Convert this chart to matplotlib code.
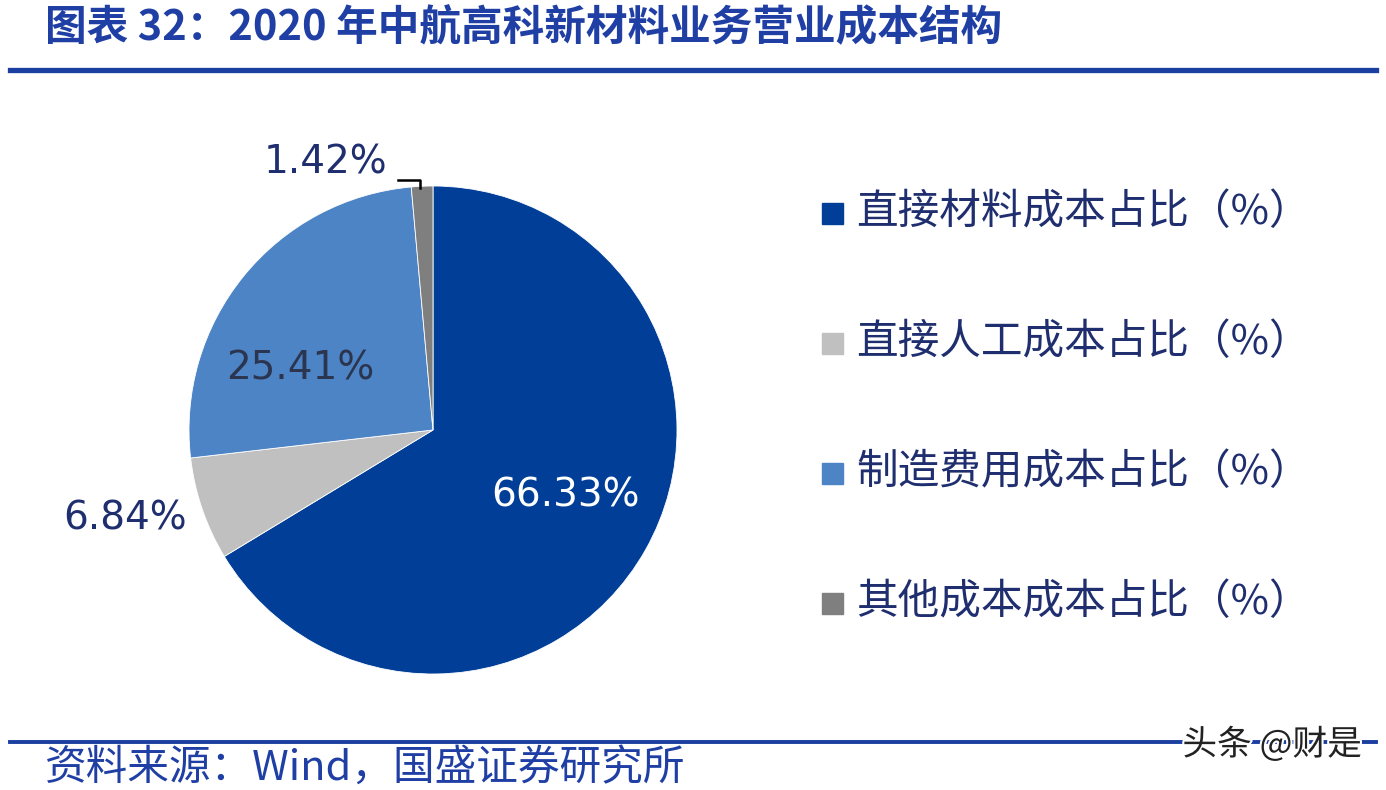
import matplotlib
matplotlib.use('Agg')
import matplotlib.pyplot as plt
import matplotlib.patheffects as pe
from matplotlib.lines import Line2D
from matplotlib.patches import Rectangle

plt.rcParams['font.family'] = ['Noto Sans CJK SC', 'DejaVu Sans']

# ---------------------------
# data
# ---------------------------
categories = ['直接材料成本占比（%）', '直接人工成本占比（%）',
              '制造费用成本占比（%）', '其他成本成本占比（%）']
values = [66.33, 6.84, 25.41, 1.42]
colors = ['#003E98', '#C0C0C0', '#4D84C6', '#7F7F7F']

title = '图表 32：2020 年中航高科新材料业务营业成本结构'
source = '资料来源：Wind，国盛证券研究所'

W, H = 1386, 790
fig = plt.figure(figsize=(W / 100, H / 100), dpi=100)
fig.patch.set_facecolor('white')

def fx(px):
    return px / W

def fy(py):
    return 1 - py / H

navy = '#1F2E6E'
blue = '#1F3FA5'

# title + rules
fig.text(fx(45), fy(28), title, fontsize=30, color=blue, ha='left', va='center',
         fontweight='bold')
fig.add_artist(Line2D([fx(10), fx(1376)], [fy(70), fy(70)], color='#1B3FA0', lw=3.8))
fig.add_artist(Line2D([fx(10), fx(1376)], [fy(742), fy(742)], color='#1B3FA0', lw=2.8))
fig.text(fx(45), fy(768), source, fontsize=30, color=blue, ha='left', va='center')
fig.text(fx(1362), fy(745), '头条 @财是', fontsize=25, color='#222222', ha='right', va='center',
         path_effects=[pe.withStroke(linewidth=3, foreground='white')])

# ---------------------------
# pie
# ---------------------------
cx, cy, r = 433, 430, 244
ax = fig.add_axes([fx(cx - r), fy(cy + r), (2 * r) / W, (2 * r) / H])
ax.pie(values, colors=colors, startangle=90, counterclock=False, radius=1,
       wedgeprops=dict(edgecolor='white', linewidth=0.6))
ax.set_xlim(-1, 1)
ax.set_ylim(-1, 1)
ax.set_aspect('equal')
ax.axis('off')

def d(px, py):
    return (px - cx) / r, (cy - py) / r

label_pos = [(565, 495), (125, 518), (300, 368), (325, 162)]
label_col = ['white', navy, '#2B3550', navy]
for v, (px, py), c in zip(values, label_pos, label_col):
    x, y = d(px, py)
    ax.text(x, y, f'{v:.2f}%', fontsize=28, color=c, ha='center', va='center',
            family='DejaVu Sans', clip_on=False)

# leader line for the small slice
lx = [d(398, 180)[0], d(420, 180)[0], d(420, 188)[0]]
ly = [d(398, 180)[1], d(420, 180)[1], d(420, 188)[1]]
ax.plot(lx, ly, color='black', lw=1.8, clip_on=False)

# ---------------------------
# legend
# ---------------------------
leg_y = [213, 343, 473, 603]
for cat, c, py in zip(categories, colors, leg_y):
    fig.add_artist(Rectangle((fx(822), fy(py + 11)), 21 / W, 21 / H, color=c,
                             transform=fig.transFigure))
    fig.text(fx(856), fy(py), cat, fontsize=30, color=navy, ha='left', va='center')

fig.savefig('out.png', dpi=100, facecolor='white')
